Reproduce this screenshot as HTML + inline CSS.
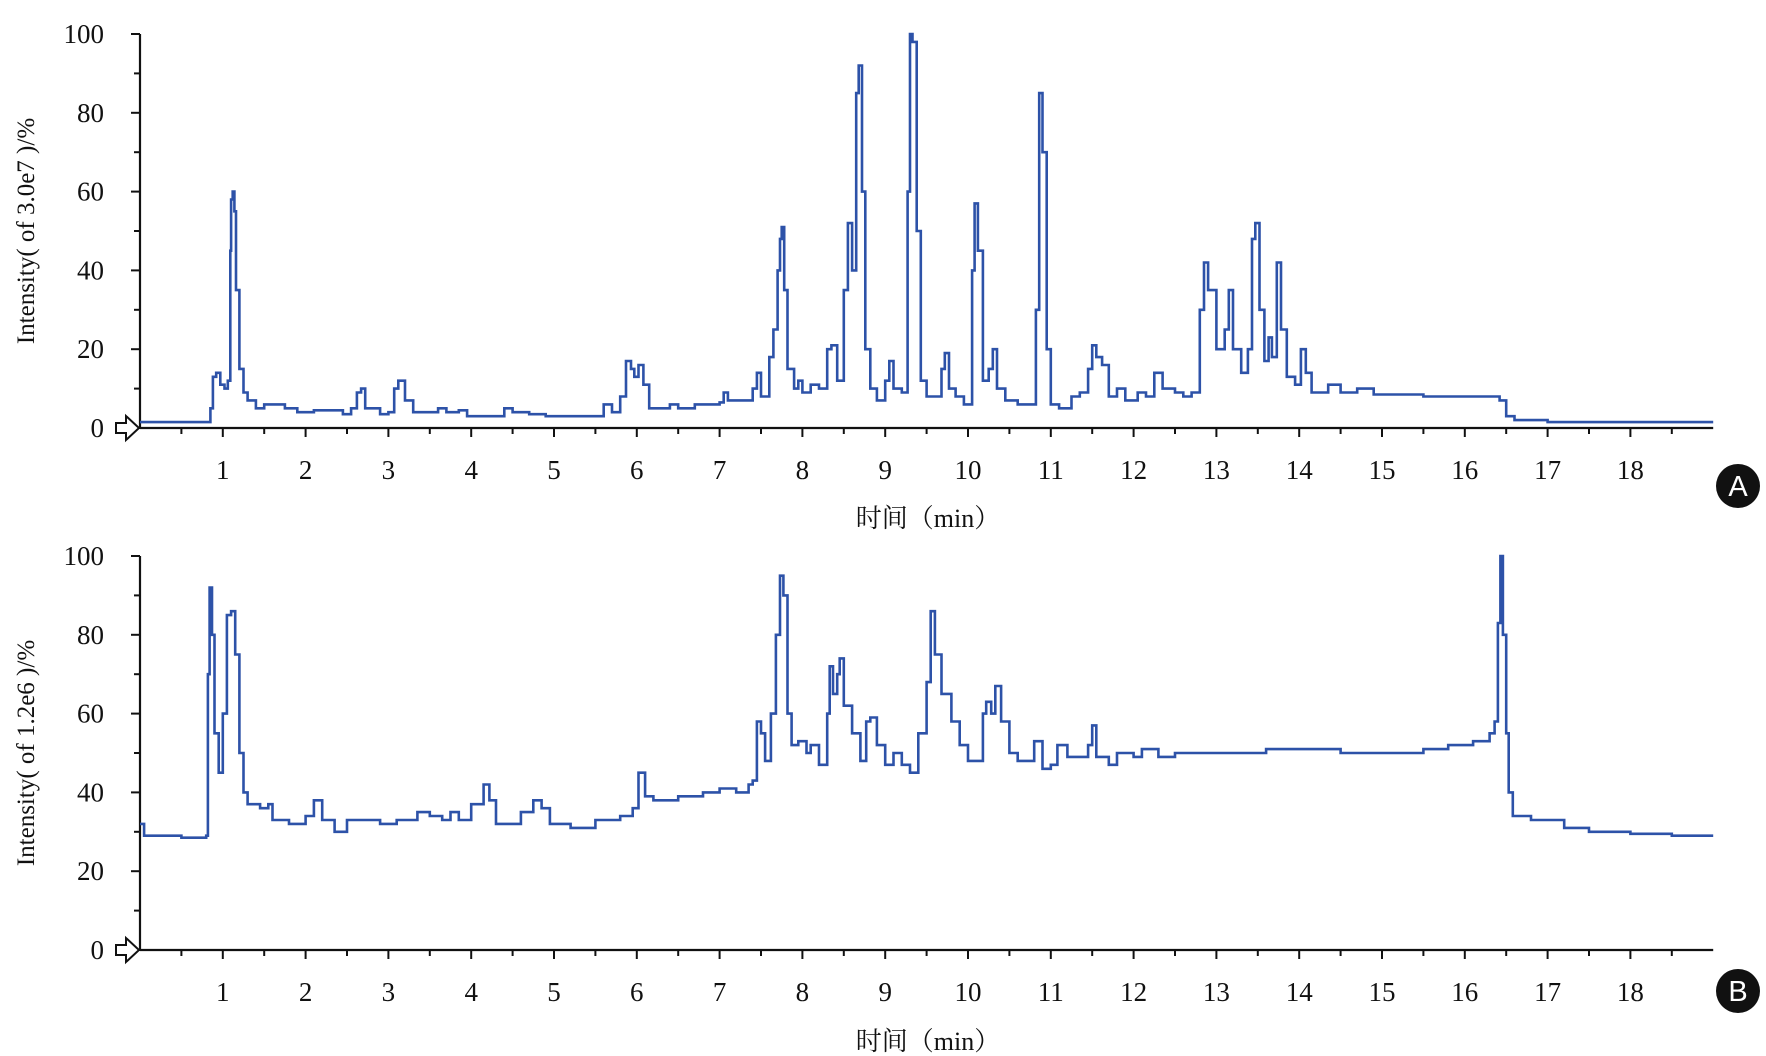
<!DOCTYPE html>
<html><head><meta charset="utf-8"><style>
html,body{margin:0;padding:0;background:#fff;}
svg{display:block;font-family:"Liberation Serif","Noto Serif CJK SC",serif;}
</style></head><body>
<svg id="chart" width="1766" height="1056" viewBox="0 0 1766 1056" xmlns="http://www.w3.org/2000/svg"></svg>
<script>
// Panel A data (time in min, relative intensity %)
const timesA = [0,0.8,0.85,0.88,0.92,0.97,1.02,1.06,1.09,1.1,1.12,1.14,1.16,1.2,1.25,1.3,1.4,1.5,1.65,1.75,1.9,2.1,2.3,2.45,2.55,2.62,2.67,2.72,2.9,3.0,3.07,3.12,3.2,3.3,3.5,3.6,3.7,3.85,3.95,4.3,4.4,4.5,4.7,4.9,5.5,5.6,5.7,5.8,5.87,5.93,5.97,6.02,6.08,6.15,6.3,6.4,6.5,6.7,7.0,7.05,7.1,7.3,7.4,7.45,7.5,7.6,7.65,7.7,7.73,7.75,7.78,7.82,7.9,7.95,8.0,8.1,8.2,8.3,8.35,8.42,8.5,8.55,8.6,8.65,8.68,8.72,8.76,8.82,8.9,9.0,9.05,9.1,9.2,9.27,9.3,9.33,9.38,9.43,9.5,9.6,9.68,9.72,9.77,9.85,9.95,10.05,10.08,10.12,10.18,10.25,10.3,10.35,10.45,10.6,10.75,10.82,10.86,10.9,10.95,11.0,11.1,11.25,11.35,11.45,11.5,11.55,11.62,11.7,11.8,11.9,12.05,12.15,12.25,12.35,12.5,12.6,12.7,12.8,12.85,12.9,13.0,13.1,13.15,13.2,13.3,13.38,13.43,13.47,13.52,13.58,13.63,13.67,13.73,13.78,13.85,13.95,14.02,14.08,14.15,14.35,14.5,14.7,14.9,15.2,15.5,16.0,16.35,16.42,16.5,16.6,17,19];
const valuesA = [1.5,1.5,5,13,14,11,10,12,45,58,60,55,35,15,9,7,5,6,6,5,4,4.5,4.5,3.5,5,9,10,5,3.5,4,10,12,7,4,4,5,4,4.5,3,3,5,4,3.5,3,3,6,4,8,17,15,13,16,11,5,5,6,5,6,6.5,9,7,7,10,14,8,18,25,40,48,51,35,15,10,12,9,11,10,20,21,12,35,52,40,85,92,60,20,10,7,12,17,10,9,60,100,98,50,12,8,8,15,19,10,8,6,40,57,45,12,15,20,10,7,6,6,30,85,70,20,6,5,8,9,15,21,18,16,8,10,7,9,8,14,10,9,8,9,30,42,35,20,25,35,20,14,20,48,52,30,17,23,18,42,25,13,11,20,14,9,11,9,10,8.5,8.5,8,8,8,7,3,2,1.5,1.5];
// Panel B data
const timesB = [0,0.05,0.5,0.8,0.82,0.84,0.87,0.9,0.95,1.0,1.05,1.1,1.15,1.2,1.25,1.3,1.45,1.55,1.6,1.8,2.0,2.1,2.2,2.35,2.5,2.7,2.9,3.1,3.35,3.5,3.65,3.75,3.85,4.0,4.15,4.22,4.3,4.45,4.6,4.75,4.85,4.95,5.2,5.5,5.8,5.95,6.02,6.1,6.2,6.5,6.8,7.0,7.2,7.35,7.4,7.45,7.5,7.55,7.62,7.68,7.73,7.77,7.82,7.87,7.95,8.05,8.1,8.2,8.3,8.33,8.37,8.42,8.45,8.5,8.6,8.7,8.77,8.82,8.9,9.0,9.1,9.2,9.3,9.4,9.5,9.55,9.6,9.68,9.8,9.9,10.0,10.1,10.18,10.22,10.28,10.33,10.4,10.5,10.6,10.72,10.8,10.9,11.0,11.08,11.2,11.35,11.45,11.5,11.55,11.7,11.8,12.0,12.1,12.3,12.5,13.0,13.5,13.6,14.0,14.5,15.0,15.5,15.8,16.1,16.3,16.36,16.4,16.43,16.46,16.5,16.53,16.58,16.8,17.2,17.5,18,18.5,19];
const valuesB = [32,29,28.5,29,70,92,80,55,45,60,85,86,75,50,40,37,36,37,33,32,34,38,33,30,33,33,32,33,35,34,33,35,33,37,42,38,32,32,35,38,36,32,31,33,34,36,45,39,38,39,40,41,40,42,43,58,55,48,60,80,95,90,60,52,53,50,52,47,60,72,65,70,74,62,55,48,58,59,52,47,50,47,45,55,68,86,75,65,58,52,48,48,60,63,60,67,58,50,48,48,53,46,47,52,49,49,52,57,49,47,50,49,51,49,50,50,50,51,51,50,50,51,52,53,55,58,83,100,80,55,40,34,33,31,30,29.5,29,29];
const xTickLabels = ["1","2","3","4","5","6","7","8","9","10","11","12","13","14","15","16","17","18"];
const yTickLabels = ["0","20","40","60","80","100"];

const NS = "http://www.w3.org/2000/svg";
const svg = document.getElementById("chart");
function mk(tag, attrs, parent){const e=document.createElementNS(NS,tag);for(const k in attrs)e.setAttribute(k,attrs[k]);(parent||svg).appendChild(e);return e;}

function panel(id, y100, y0, labelY, titleY, letter, circY, yTitle, times, values){
  const g = mk("g",{});
  
  
  const x0=140, perMin=82.8, xEnd=x0+19*perMin;
  const xs=t=>x0+t*perMin;
  const ys=v=>y0-(y0-y100)*v/100;
  const ya = mk("line",{x1:x0,y1:y100,x2:x0,y2:y0,stroke:"#111","stroke-width":2.2},g);
  
  
  const xa = mk("line",{x1:x0,y1:y0,x2:xEnd,y2:y0,stroke:"#111","stroke-width":2.2},g);
  
  
  for(let v=0; v<=100; v+=10){
    const L = v%20===0?9:6;
    mk("line",{x1:x0-L,y1:ys(v),x2:x0,y2:ys(v),stroke:"#111","stroke-width":2},g);
  }
  yTickLabels.forEach(lbl=>{
    const t = mk("text",{x:104,y:ys(+lbl)+9,"text-anchor":"end","font-size":27,fill:"#111"},g);
    t.textContent = lbl;
    
    
  });
  for(let m=0.5; m<19; m+=0.5){
    const L = (m%1===0)?9:6;
    mk("line",{x1:xs(m),y1:y0,x2:xs(m),y2:y0+L,stroke:"#111","stroke-width":2},g);
  }
  xTickLabels.forEach(lbl=>{
    const t = mk("text",{x:xs(+lbl),y:labelY,"text-anchor":"middle","font-size":27,fill:"#111"},g);
    t.textContent = lbl;
    
    
  });
  const ar = mk("path",{d:`M${x0-24},${y0-5} h10 v-7 l13,12 l-13,12 v-7 h-10 z`,fill:"#fff",stroke:"#111","stroke-width":2},g);
  
  
  const xt = mk("text",{x:928,y:titleY,"text-anchor":"middle","font-size":26,fill:"#111"},g);
  xt.textContent = "时间（min）";
  
  
  const yt = mk("text",{x:0,y:0,"text-anchor":"middle","font-size":25,fill:"#111",transform:`translate(34,${(y0+y100)/2}) rotate(-90)`},g);
  yt.textContent = "Intensity( " + yTitle + " )/%";
  
  
  // step-style series
  let d="";
  times.forEach((t,i)=>{
    const x=xs(t).toFixed(1), y=ys(values[i]).toFixed(1);
    if(i===0) d+="M"+x+","+y; else d+="H"+x+"V"+y;
  });
  const p = mk("path",{d:d,fill:"none",stroke:"#2d52a8","stroke-width":2.6,"stroke-linejoin":"miter"},g);
  
  
  const c = mk("circle",{cx:1738,cy:circY,r:22,fill:"#111"},g);
  
  
  const ct = mk("text",{x:1738,y:circY+10,"text-anchor":"middle","font-size":29,fill:"#fff","font-family":"Liberation Sans, sans-serif"},g);
  ct.textContent = letter;
  
  
}
panel("a",34,428,479,527,"A",486,"of 3.0e7",timesA,valuesA);
panel("b",556,950,1001,1050,"B",991,"of 1.2e6",timesB,valuesB);
</script>
</body></html>
